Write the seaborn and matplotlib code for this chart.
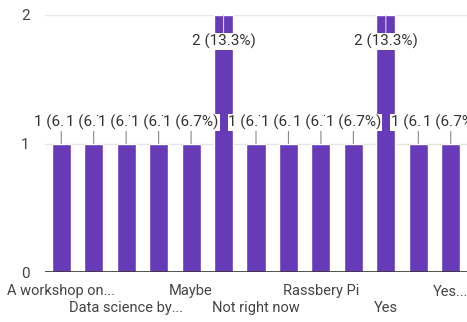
import numpy as np
import pandas as pd
from matplotlib import pyplot as plt
import seaborn as sns

# responses per option (13 options, only every other name is shown on the axis)
counts = [1, 1, 1, 1, 1, 2, 1, 1, 1, 1, 2, 1, 1]
tick_names = ['A workshop on...', '', 'Data science by...', '', 'Maybe', '',
              'Not right now', '', 'Rassbery Pi', '', 'Yes', '', 'Yes...']
y_ticks = [0, 1, 2]

total = sum(counts)
df = pd.DataFrame({'pos': list(range(len(counts))), 'count': counts})

sns.set_style('white')
plt.rcParams['font.family'] = ['Roboto', 'DejaVu Sans']

fig = plt.figure(figsize=(4.67, 3.22), dpi=100)
ax = fig.add_axes([45 / 467, 50 / 322, 422 / 467, 257 / 322])

sns.barplot(data=df, x='pos', y='count', color='#673AB7', saturation=1,
            width=0.59, ax=ax, zorder=2)

ax.set_ylim(0, 2)
ax.set_xlim(-0.5, len(counts) - 0.5)
ax.set_yticks(y_ticks)
ax.set_yticklabels([str(t) for t in y_ticks], fontsize=11, color='#444444')
for t in y_ticks[1:]:
    ax.axhline(t, color='#e6e6e6', lw=1, zorder=0)
ax.axhline(0, color='#333333', lw=1.2, zorder=3)

# two rows of x labels
labels = []
for i, name in enumerate(tick_names):
    if name and (i // 2) % 2 == 1:
        name = '\n' + name
    labels.append(name)
ax.set_xticks(range(len(counts)))
ax.set_xticklabels(labels, fontsize=10.5, color='#444444', va='top')
ax.tick_params(axis='both', length=0)
ax.tick_params(axis='x', pad=9)
ax.tick_params(axis='y', pad=11)
ax.set_xlabel('')
ax.set_ylabel('')
sns.despine(ax=ax, left=True, bottom=True, top=True, right=True)

# value labels with leader lines
for i, v in enumerate(counts):
    txt = f"{v} ({v / total * 100:.1f}%)"
    if v == 1:
        ax.annotate(txt, xy=(i, v), xytext=(0, 15), textcoords='offset points',
                    ha='center', va='center', fontsize=11, color='#333333',
                    bbox=dict(boxstyle='square,pad=0.05', fc='white', ec='none'),
                    arrowprops=dict(arrowstyle='-', color='#888888', lw=0.8,
                                    shrinkA=0, shrinkB=0),
                    zorder=4 + i, annotation_clip=False)
    else:
        ax.annotate(txt, xy=(i, v), xytext=(0, -19), textcoords='offset points',
                    ha='center', va='center', fontsize=11, color='#333333',
                    bbox=dict(boxstyle='square,pad=0.05', fc='white', ec='none'),
                    arrowprops=dict(arrowstyle='-', color='#d8d0ee', lw=0.8,
                                    shrinkA=0, shrinkB=0),
                    zorder=4 + i, annotation_clip=False)

fig.savefig('out.png', dpi=100)
